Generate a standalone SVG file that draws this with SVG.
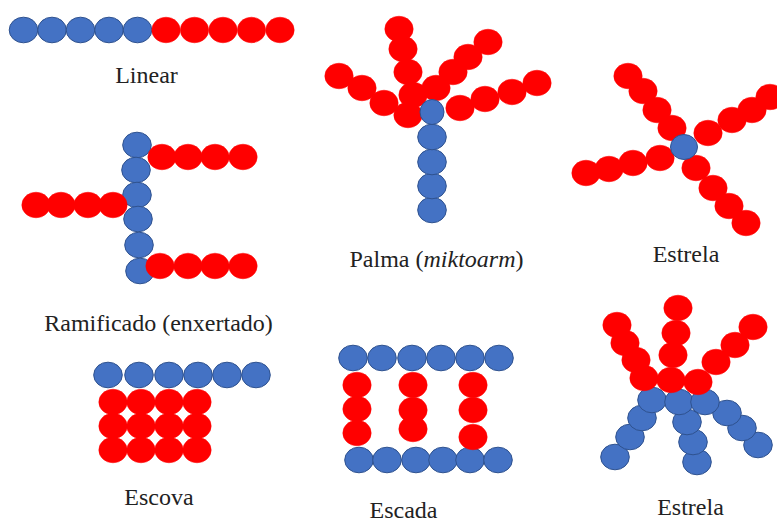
<svg xmlns="http://www.w3.org/2000/svg" xmlns:xlink="http://www.w3.org/1999/xlink" width="777" height="524" viewBox="0 0 777 524">
<style>
.b{fill:#4472C4;stroke:#2F528F;stroke-width:1}
.r{fill:#FF0000;stroke:#FF0000;stroke-width:0.5}
.t{font-family:'Liberation Serif','Tinos','DejaVu Serif','Times New Roman',Times,serif;font-size:24px;fill:#222;text-anchor:middle}
.d{font-family:'DejaVu Serif',serif;font-size:21px}
</style>
<defs>
<ellipse id="B" class="b" cx="0" cy="0" rx="14.3" ry="12.8"/>
<ellipse id="R" class="r" cx="0" cy="0" rx="14.2" ry="12.8"/>
</defs>
<rect width="777" height="524" fill="#fff"/>
<g id="linear">
<use href="#B" x="23.5" y="30"/><use href="#B" x="52" y="30"/><use href="#B" x="80.5" y="30"/><use href="#B" x="109" y="30"/><use href="#B" x="137.5" y="30"/>
<use href="#R" x="166" y="30"/><use href="#R" x="194.5" y="30"/><use href="#R" x="223" y="30"/><use href="#R" x="251.5" y="30"/><use href="#R" x="280" y="30"/>
<text class="t" x="146.5" y="83">Linear</text>
</g>
<g id="palma">
<use href="#B" x="432" y="210"/><use href="#B" x="432" y="186"/><use href="#B" x="432" y="162"/><use href="#B" x="432" y="137"/>
<use href="#R" x="339" y="76"/><use href="#R" x="362" y="88"/><use href="#R" x="384" y="103"/>
<use href="#R" x="399" y="29"/><use href="#R" x="403" y="49"/><use href="#R" x="408" y="72"/><use href="#R" x="413" y="95"/>
<use href="#R" x="488" y="42"/><use href="#R" x="468" y="57"/><use href="#R" x="453" y="72"/><use href="#R" x="436" y="88"/>
<use href="#R" x="537" y="83"/><use href="#R" x="512" y="92"/><use href="#R" x="485" y="99"/><use href="#R" x="460" y="108"/>
<use href="#R" x="408" y="115"/>
<ellipse class="b" cx="432" cy="112" rx="12" ry="12.5"/>
<text class="t" x="436.5" y="267">Palma (<tspan font-style="italic">miktoarm</tspan>)</text>
</g>
<g id="estrela1">
<use href="#R" x="628" y="76"/><use href="#R" x="643" y="91"/><use href="#R" x="657" y="110"/><use href="#R" x="672" y="128"/>
<use href="#R" x="770" y="97"/><use href="#R" x="752" y="110"/><use href="#R" x="732" y="120"/><use href="#R" x="708" y="133"/>
<use href="#R" x="586" y="173"/><use href="#R" x="609" y="169"/><use href="#R" x="633" y="163"/><use href="#R" x="660" y="158"/>
<use href="#R" x="746" y="223"/><use href="#R" x="729" y="206"/><use href="#R" x="713" y="188"/><use href="#R" x="696" y="168"/>
<ellipse class="b" cx="684" cy="147" rx="13.5" ry="12.5"/>
<text class="t" x="686" y="262">Estrela</text>
</g>
<g id="ramificado">
<use href="#B" x="137" y="145"/><use href="#B" x="136" y="170"/><use href="#B" x="137" y="195"/><use href="#B" x="138" y="219"/><use href="#B" x="139" y="245"/><use href="#B" x="140" y="271"/>
<use href="#R" x="162" y="157"/><use href="#R" x="188" y="157"/><use href="#R" x="215" y="157"/><use href="#R" x="243" y="157"/>
<use href="#R" x="36" y="205"/><use href="#R" x="61" y="205"/><use href="#R" x="88" y="205"/><use href="#R" x="113" y="205"/>
<use href="#R" x="160" y="266"/><use href="#R" x="188" y="266"/><use href="#R" x="215" y="266"/><use href="#R" x="243" y="266"/>
<text class="t" x="158.5" y="331">Ramificado (enxertado)</text>
</g>
<g id="escova">
<use href="#B" x="108" y="375"/><use href="#B" x="139" y="375"/><use href="#B" x="169" y="375"/><use href="#B" x="198" y="375"/><use href="#B" x="227" y="375"/><use href="#B" x="256" y="375"/>
<use href="#R" x="113" y="402"/><use href="#R" x="141" y="402"/><use href="#R" x="169" y="402"/><use href="#R" x="197" y="402"/>
<use href="#R" x="113" y="426"/><use href="#R" x="141" y="426"/><use href="#R" x="169" y="426"/><use href="#R" x="197" y="426"/>
<use href="#R" x="113" y="450"/><use href="#R" x="141" y="450"/><use href="#R" x="169" y="450"/><use href="#R" x="197" y="450"/>
<text class="t" x="159" y="505">Escova</text>
</g>
<g id="escada">
<use href="#B" x="353" y="358"/><use href="#B" x="382" y="358"/><use href="#B" x="412" y="358"/><use href="#B" x="441" y="358"/><use href="#B" x="470" y="358"/><use href="#B" x="499" y="358"/>
<use href="#B" x="359" y="460"/><use href="#B" x="387" y="460"/><use href="#B" x="416" y="460"/><use href="#B" x="443" y="460"/><use href="#B" x="470" y="460"/><use href="#B" x="498" y="460"/>
<use href="#R" x="357" y="385"/><use href="#R" x="357" y="409"/><use href="#R" x="357" y="433"/>
<use href="#R" x="413" y="385"/><use href="#R" x="413" y="410"/><use href="#R" x="413" y="429"/>
<use href="#R" x="473" y="385"/><use href="#R" x="473" y="410"/><use href="#R" x="473" y="437"/>
<text class="t" x="403.5" y="518">Escada</text>
</g>
<g id="estrela2">
<use href="#B" x="615" y="457"/><use href="#B" x="630" y="437"/><use href="#B" x="642" y="418"/><use href="#B" x="652" y="400"/>
<use href="#B" x="697" y="462"/><use href="#B" x="693" y="442"/><use href="#B" x="687" y="422"/><use href="#B" x="679" y="402"/>
<use href="#B" x="758" y="445"/><use href="#B" x="742" y="428"/><use href="#B" x="727" y="413"/><use href="#B" x="705" y="402"/>
<use href="#R" x="617" y="325"/><use href="#R" x="625" y="343"/><use href="#R" x="636" y="360"/><use href="#R" x="644" y="378"/>
<use href="#R" x="678" y="308"/><use href="#R" x="676" y="333"/><use href="#R" x="673" y="355"/><use href="#R" x="671" y="380"/>
<use href="#R" x="753" y="327"/><use href="#R" x="735" y="345"/><use href="#R" x="716" y="362"/><use href="#R" x="698" y="382"/>
<text class="t" x="690.5" y="515">Estrela</text>
</g>
<g id="connectors"/>
</svg>
